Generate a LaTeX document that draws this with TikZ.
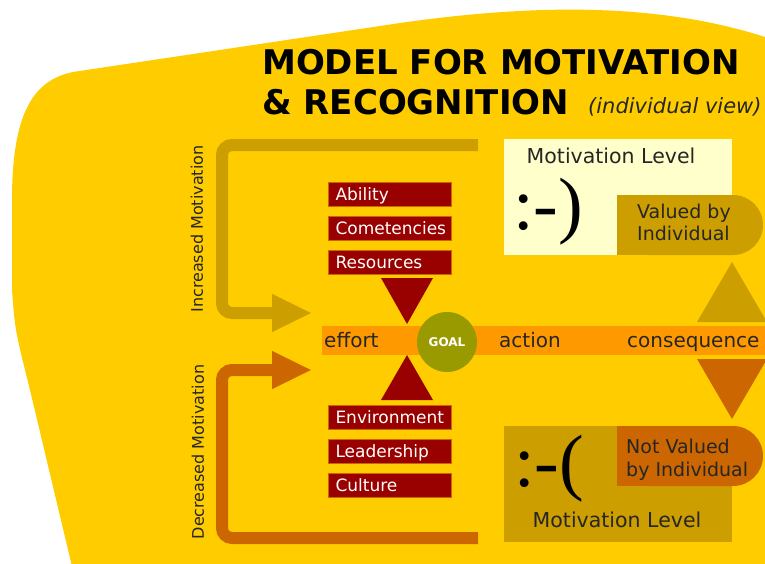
\documentclass[tikz,border=0pt]{standalone}
\usepackage{fontspec}
\setmainfont{DejaVu Sans}
\newfontfamily\smileyfont{Liberation Serif}
\usetikzlibrary{arrows.meta}
\definecolor{bgyellow}{HTML}{FFCC00}
\definecolor{gold}{HTML}{CC9E00}
\definecolor{rust}{HTML}{CC6600}
\definecolor{bandorange}{HTML}{FF9900}
\definecolor{boxred}{HTML}{990000}
\definecolor{goalolive}{HTML}{999900}
\definecolor{cream}{HTML}{FFFFCC}
\definecolor{ink}{HTML}{262626}
\newcommand\setpx[2]{\fontsize{#1}{#2}\selectfont}
\begin{document}
\begin{tikzpicture}[x=1pt,y=-1pt,
  factorbox/.style={fill=boxred, draw=rust, line width=1pt, text=white,
    anchor=west, inner xsep=7pt, inner ysep=0pt, text width=109pt,
    minimum height=24pt, text height=14pt, text depth=2pt, align=left,
    font=\setpx{17}{20}},
  loopline/.style={line width=12pt, rounded corners=10pt,
    -{Triangle[length=40pt,width=35pt]}},
  sidelabel/.style={rotate=90, inner sep=0pt, text=ink, font=\setpx{16}{19}},
  bandword/.style={anchor=base west, inner sep=0pt, text=ink, font=\setpx{20}{24}},
  levelword/.style={anchor=base, inner sep=0pt, text=ink, font=\setpx{20.5}{24}},
  pillword/.style={anchor=base west, inner sep=0pt, text=ink},
  smiley/.style={anchor=base west, inner sep=0pt, text=black, font=\smileyfont\setpx{74}{80}},
  titleword/.style={anchor=base west, inner sep=0pt, text=black, font=\bfseries\setpx{34}{40}}]

\useasboundingbox (0,0) rectangle (765,563);
\fill[white] (0,0) rectangle (765,563);

% backdrop
\fill[bgyellow] (80,600) -- (30,390) .. controls (15,330) .. (12,290)
  -- (12,200) .. controls (12,110) and (35,80) .. (73,72)
  -- (400,23) .. controls (520,6) and (650,0) .. (765,37)
  -- (800,60) -- (800,600) -- cycle;

% title
\node[titleword] (title1) at (262,74) {MODEL FOR MOTIVATION};
\node[titleword] (title2) at (262,114) {\& RECOGNITION};
\node[anchor=base west, inner sep=0pt, text=ink, font=\itshape\setpx{21}{24}]
  (view) at (588,113) {(individual view)};

% feedback loops
\coordinate (upstart) at (478,145);
\coordinate (upbend) at (222,145);
\coordinate (uptip) at (312,313);
\coordinate (downstart) at (478,538);
\coordinate (downbend) at (222,538);
\coordinate (downtip) at (312,370);
\draw[loopline, draw=gold] (upstart) -- (upbend) |- (uptip);
\draw[loopline, draw=rust] (downstart) -- (downbend) |- (downtip);
\node[sidelabel] (incr) at (197,229) {Increased Motivation};
\node[sidelabel] (decr) at (198,452) {Decreased Motivation};

% effort - action - consequence band
\fill[bandorange] (322,326) rectangle (800,355);
\node[bandword] (effort) at (324,347) {effort};
\node[bandword] (action) at (499,347) {action};
\node[bandword] (consequence) at (627,347) {consequence};
\node[circle, fill=goalolive, minimum size=60pt, inner sep=0pt, text=white,
  font=\bfseries\setpx{12}{14}] (goal) at (447,342) {GOAL};

% enabling factors
\node[factorbox] (ability) at (328,194) {Ability};
\node[factorbox] (competencies) at (328,228.5) {Cometencies};
\node[factorbox] (resources) at (328,262.5) {Resources};
\fill[boxred] (381,278) -- (433,278) -- (407,324) -- cycle;
\fill[boxred] (381,400) -- (433,400) -- (407,355) -- cycle;
\node[factorbox] (environment) at (328,417) {Environment};
\node[factorbox] (leadership) at (328,451) {Leadership};
\node[factorbox] (culture) at (328,485.5) {Culture};

% positive outcome
\fill[cream] (504,139) rectangle (732,255);
\node[levelword] (levelup) at (611,163) {Motivation Level};
\node[smiley] (happy) at (513,229) {:-)};
\fill[gold, rounded corners=30pt] (617,195) rectangle (763,255);
\fill[gold] (617,195) rectangle (700,255);
\node[pillword, font=\setpx{19}{22}] (valued) at (637,218)
  {\vtop{\hbox{Valued by}\hbox{Individual}}};
\fill[gold] (697,322) -- (767,322) -- (732,262) -- cycle;

% negative outcome
\fill[rust] (697,359) -- (767,359) -- (732,419) -- cycle;
\fill[gold] (504,426) rectangle (732,542);
\fill[rust, rounded corners=30pt] (617,426) rectangle (763,486);
\fill[rust] (617,426) rectangle (700,486);
\node[pillword, font=\setpx{19}{23}] (notvalued) at (626,453)
  {\vtop{\hbox{Not Valued}\hbox{by Individual}}};
\node[smiley] (sad) at (514,486) {:-(};
\node[levelword] (leveldown) at (617,527) {Motivation Level};

\end{tikzpicture}
\end{document}
